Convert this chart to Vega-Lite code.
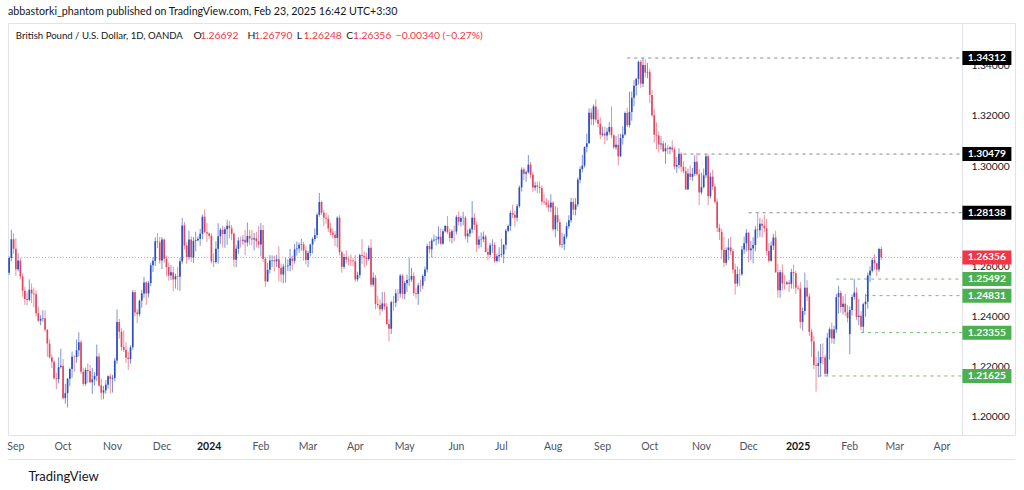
{
"$schema": "https://vega.github.io/schema/vega-lite/v6.json",
"width": 1007, "height": 412, "autosize": "none",
"padding": {"left": 8, "top": 23, "right": 9, "bottom": 55},
"background": "#ffffff",
"config": {"view": {"stroke": "#E0E3EB"}, "font": "Lato"},
"title": {"text": "abbastorki_phantom published on TradingView.com, Feb 23, 2025 16:42 UTC+3:30", "anchor": "start", "frame": "group", "font": "Lato", "fontSize": 10.7, "fontWeight": "normal", "color": "#131722", "offset": 5},
"datasets": {
"px": [
{"d":"2023-08-29","o":1.2574,"h":1.2640,"l":1.2565,"c":1.2633},
{"d":"2023-08-30","o":1.2633,"h":1.2746,"l":1.2620,"c":1.2708},
{"d":"2023-08-31","o":1.2708,"h":1.2732,"l":1.2650,"c":1.2670},
{"d":"2023-09-01","o":1.2670,"h":1.2712,"l":1.2562,"c":1.2588},
{"d":"2023-09-04","o":1.2588,"h":1.2652,"l":1.2580,"c":1.2623},
{"d":"2023-09-05","o":1.2623,"h":1.2634,"l":1.2548,"c":1.2560},
{"d":"2023-09-06","o":1.2560,"h":1.2572,"l":1.2478,"c":1.2503},
{"d":"2023-09-07","o":1.2503,"h":1.2518,"l":1.2446,"c":1.2470},
{"d":"2023-09-08","o":1.2470,"h":1.2500,"l":1.2444,"c":1.2466},
{"d":"2023-09-11","o":1.2466,"h":1.2548,"l":1.2460,"c":1.2507},
{"d":"2023-09-12","o":1.2507,"h":1.2532,"l":1.2454,"c":1.2492},
{"d":"2023-09-13","o":1.2492,"h":1.2515,"l":1.2437,"c":1.2489},
{"d":"2023-09-14","o":1.2489,"h":1.2504,"l":1.2400,"c":1.2413},
{"d":"2023-09-15","o":1.2413,"h":1.2440,"l":1.2377,"c":1.2383},
{"d":"2023-09-18","o":1.2383,"h":1.2405,"l":1.2365,"c":1.2391},
{"d":"2023-09-19","o":1.2391,"h":1.2425,"l":1.2379,"c":1.2393},
{"d":"2023-09-20","o":1.2393,"h":1.2424,"l":1.2339,"c":1.2347},
{"d":"2023-09-21","o":1.2347,"h":1.2350,"l":1.2239,"c":1.2292},
{"d":"2023-09-22","o":1.2292,"h":1.2309,"l":1.2231,"c":1.2237},
{"d":"2023-09-25","o":1.2237,"h":1.2249,"l":1.2194,"c":1.2219},
{"d":"2023-09-26","o":1.2219,"h":1.2225,"l":1.2148,"c":1.2153},
{"d":"2023-09-27","o":1.2153,"h":1.2175,"l":1.2110,"c":1.2150},
{"d":"2023-09-28","o":1.2150,"h":1.2237,"l":1.2133,"c":1.2198},
{"d":"2023-09-29","o":1.2198,"h":1.2271,"l":1.2192,"c":1.2203},
{"d":"2023-10-02","o":1.2203,"h":1.2230,"l":1.2070,"c":1.2074},
{"d":"2023-10-03","o":1.2074,"h":1.2131,"l":1.2052,"c":1.2094},
{"d":"2023-10-04","o":1.2094,"h":1.2155,"l":1.2037,"c":1.2151},
{"d":"2023-10-05","o":1.2151,"h":1.2196,"l":1.2122,"c":1.2190},
{"d":"2023-10-06","o":1.2190,"h":1.2260,"l":1.2156,"c":1.2239},
{"d":"2023-10-09","o":1.2239,"h":1.2245,"l":1.2178,"c":1.2238},
{"d":"2023-10-10","o":1.2238,"h":1.2308,"l":1.2215,"c":1.2265},
{"d":"2023-10-11","o":1.2265,"h":1.2337,"l":1.2240,"c":1.2297},
{"d":"2023-10-12","o":1.2297,"h":1.2307,"l":1.2170,"c":1.2179},
{"d":"2023-10-13","o":1.2179,"h":1.2196,"l":1.2123,"c":1.2131},
{"d":"2023-10-16","o":1.2131,"h":1.2196,"l":1.2123,"c":1.2187},
{"d":"2023-10-17","o":1.2187,"h":1.2213,"l":1.2134,"c":1.2182},
{"d":"2023-10-18","o":1.2182,"h":1.2207,"l":1.2136,"c":1.2137},
{"d":"2023-10-19","o":1.2137,"h":1.2195,"l":1.2091,"c":1.2149},
{"d":"2023-10-20","o":1.2149,"h":1.2178,"l":1.2124,"c":1.2163},
{"d":"2023-10-23","o":1.2163,"h":1.2288,"l":1.2142,"c":1.2240},
{"d":"2023-10-24","o":1.2240,"h":1.2254,"l":1.2119,"c":1.2125},
{"d":"2023-10-25","o":1.2125,"h":1.2152,"l":1.2068,"c":1.2096},
{"d":"2023-10-26","o":1.2096,"h":1.2123,"l":1.2070,"c":1.2105},
{"d":"2023-10-27","o":1.2105,"h":1.2146,"l":1.2091,"c":1.2128},
{"d":"2023-10-30","o":1.2128,"h":1.2165,"l":1.2112,"c":1.2161},
{"d":"2023-10-31","o":1.2161,"h":1.2171,"l":1.2093,"c":1.2151},
{"d":"2023-11-01","o":1.2151,"h":1.2167,"l":1.2096,"c":1.2155},
{"d":"2023-11-02","o":1.2155,"h":1.2235,"l":1.2141,"c":1.2224},
{"d":"2023-11-03","o":1.2224,"h":1.2428,"l":1.2211,"c":1.2378},
{"d":"2023-11-06","o":1.2378,"h":1.2390,"l":1.2312,"c":1.2339},
{"d":"2023-11-07","o":1.2339,"h":1.2353,"l":1.2263,"c":1.2278},
{"d":"2023-11-08","o":1.2278,"h":1.2345,"l":1.2258,"c":1.2267},
{"d":"2023-11-09","o":1.2267,"h":1.2297,"l":1.2214,"c":1.2235},
{"d":"2023-11-10","o":1.2235,"h":1.2260,"l":1.2187,"c":1.2230},
{"d":"2023-11-13","o":1.2230,"h":1.2285,"l":1.2212,"c":1.2277},
{"d":"2023-11-14","o":1.2277,"h":1.2505,"l":1.2267,"c":1.2497},
{"d":"2023-11-15","o":1.2497,"h":1.2505,"l":1.2401,"c":1.2416},
{"d":"2023-11-16","o":1.2416,"h":1.2430,"l":1.2374,"c":1.2409},
{"d":"2023-11-17","o":1.2409,"h":1.2467,"l":1.2400,"c":1.2463},
{"d":"2023-11-20","o":1.2463,"h":1.2506,"l":1.2435,"c":1.2492},
{"d":"2023-11-21","o":1.2492,"h":1.2558,"l":1.2474,"c":1.2536},
{"d":"2023-11-22","o":1.2536,"h":1.2540,"l":1.2446,"c":1.2492},
{"d":"2023-11-23","o":1.2492,"h":1.2542,"l":1.2476,"c":1.2533},
{"d":"2023-11-24","o":1.2533,"h":1.2615,"l":1.2521,"c":1.2604},
{"d":"2023-11-27","o":1.2604,"h":1.2637,"l":1.2577,"c":1.2622},
{"d":"2023-11-28","o":1.2622,"h":1.2716,"l":1.2601,"c":1.2700},
{"d":"2023-11-29","o":1.2700,"h":1.2733,"l":1.2673,"c":1.2696},
{"d":"2023-11-30","o":1.2696,"h":1.2717,"l":1.2610,"c":1.2623},
{"d":"2023-12-01","o":1.2623,"h":1.2717,"l":1.2589,"c":1.2707},
{"d":"2023-12-04","o":1.2707,"h":1.2711,"l":1.2614,"c":1.2630},
{"d":"2023-12-05","o":1.2630,"h":1.2643,"l":1.2561,"c":1.2597},
{"d":"2023-12-06","o":1.2597,"h":1.2615,"l":1.2543,"c":1.2563},
{"d":"2023-12-07","o":1.2563,"h":1.2605,"l":1.2545,"c":1.2576},
{"d":"2023-12-08","o":1.2576,"h":1.2598,"l":1.2500,"c":1.2548},
{"d":"2023-12-11","o":1.2548,"h":1.2571,"l":1.2511,"c":1.2560},
{"d":"2023-12-12","o":1.2560,"h":1.2597,"l":1.2505,"c":1.2558},
{"d":"2023-12-13","o":1.2558,"h":1.2634,"l":1.2502,"c":1.2620},
{"d":"2023-12-14","o":1.2620,"h":1.2793,"l":1.2610,"c":1.2763},
{"d":"2023-12-15","o":1.2763,"h":1.2777,"l":1.2667,"c":1.2683},
{"d":"2023-12-18","o":1.2683,"h":1.2697,"l":1.2610,"c":1.2637},
{"d":"2023-12-19","o":1.2637,"h":1.2742,"l":1.2626,"c":1.2707},
{"d":"2023-12-20","o":1.2707,"h":1.2720,"l":1.2617,"c":1.2636},
{"d":"2023-12-21","o":1.2636,"h":1.2717,"l":1.2613,"c":1.2701},
{"d":"2023-12-22","o":1.2701,"h":1.2738,"l":1.2660,"c":1.2704},
{"d":"2023-12-25","o":1.2704,"h":1.2719,"l":1.2700,"c":1.2710},
{"d":"2023-12-26","o":1.2710,"h":1.2749,"l":1.2682,"c":1.2730},
{"d":"2023-12-27","o":1.2730,"h":1.2807,"l":1.2708,"c":1.2798},
{"d":"2023-12-28","o":1.2798,"h":1.2827,"l":1.2734,"c":1.2736},
{"d":"2023-12-29","o":1.2736,"h":1.2773,"l":1.2698,"c":1.2731},
{"d":"2024-01-01","o":1.2731,"h":1.2736,"l":1.2710,"c":1.2722},
{"d":"2024-01-02","o":1.2722,"h":1.2732,"l":1.2611,"c":1.2620},
{"d":"2024-01-03","o":1.2620,"h":1.2652,"l":1.2597,"c":1.2617},
{"d":"2024-01-04","o":1.2617,"h":1.2700,"l":1.2611,"c":1.2670},
{"d":"2024-01-05","o":1.2670,"h":1.2772,"l":1.2611,"c":1.2720},
{"d":"2024-01-08","o":1.2720,"h":1.2753,"l":1.2690,"c":1.2746},
{"d":"2024-01-09","o":1.2746,"h":1.2762,"l":1.2675,"c":1.2729},
{"d":"2024-01-10","o":1.2729,"h":1.2757,"l":1.2674,"c":1.2748},
{"d":"2024-01-11","o":1.2748,"h":1.2786,"l":1.2686,"c":1.2762},
{"d":"2024-01-12","o":1.2762,"h":1.2781,"l":1.2711,"c":1.2752},
{"d":"2024-01-15","o":1.2752,"h":1.2765,"l":1.2704,"c":1.2730},
{"d":"2024-01-16","o":1.2730,"h":1.2735,"l":1.2598,"c":1.2626},
{"d":"2024-01-17","o":1.2626,"h":1.2685,"l":1.2597,"c":1.2670},
{"d":"2024-01-18","o":1.2670,"h":1.2715,"l":1.2650,"c":1.2703},
{"d":"2024-01-19","o":1.2703,"h":1.2719,"l":1.2675,"c":1.2702},
{"d":"2024-01-22","o":1.2702,"h":1.2724,"l":1.2686,"c":1.2706},
{"d":"2024-01-23","o":1.2706,"h":1.2745,"l":1.2645,"c":1.2695},
{"d":"2024-01-24","o":1.2695,"h":1.2775,"l":1.2680,"c":1.2721},
{"d":"2024-01-25","o":1.2721,"h":1.2746,"l":1.2686,"c":1.2711},
{"d":"2024-01-26","o":1.2711,"h":1.2745,"l":1.2684,"c":1.2707},
{"d":"2024-01-29","o":1.2707,"h":1.2733,"l":1.2664,"c":1.2712},
{"d":"2024-01-30","o":1.2712,"h":1.2738,"l":1.2675,"c":1.2700},
{"d":"2024-01-31","o":1.2700,"h":1.2760,"l":1.2672,"c":1.2687},
{"d":"2024-02-01","o":1.2687,"h":1.2773,"l":1.2640,"c":1.2745},
{"d":"2024-02-02","o":1.2745,"h":1.2765,"l":1.2617,"c":1.2630},
{"d":"2024-02-05","o":1.2630,"h":1.2638,"l":1.2518,"c":1.2540},
{"d":"2024-02-06","o":1.2540,"h":1.2613,"l":1.2537,"c":1.2586},
{"d":"2024-02-07","o":1.2586,"h":1.2645,"l":1.2572,"c":1.2623},
{"d":"2024-02-08","o":1.2623,"h":1.2644,"l":1.2597,"c":1.2625},
{"d":"2024-02-09","o":1.2625,"h":1.2642,"l":1.2580,"c":1.2620},
{"d":"2024-02-12","o":1.2620,"h":1.2646,"l":1.2597,"c":1.2628},
{"d":"2024-02-13","o":1.2628,"h":1.2680,"l":1.2540,"c":1.2593},
{"d":"2024-02-14","o":1.2593,"h":1.2610,"l":1.2536,"c":1.2567},
{"d":"2024-02-15","o":1.2567,"h":1.2610,"l":1.2532,"c":1.2599},
{"d":"2024-02-16","o":1.2599,"h":1.2634,"l":1.2535,"c":1.2600},
{"d":"2024-02-19","o":1.2600,"h":1.2628,"l":1.2581,"c":1.2603},
{"d":"2024-02-20","o":1.2603,"h":1.2670,"l":1.2580,"c":1.2631},
{"d":"2024-02-21","o":1.2631,"h":1.2643,"l":1.2587,"c":1.2622},
{"d":"2024-02-22","o":1.2622,"h":1.2689,"l":1.2611,"c":1.2668},
{"d":"2024-02-23","o":1.2668,"h":1.2699,"l":1.2643,"c":1.2671},
{"d":"2024-02-26","o":1.2671,"h":1.2695,"l":1.2654,"c":1.2686},
{"d":"2024-02-27","o":1.2686,"h":1.2710,"l":1.2662,"c":1.2688},
{"d":"2024-02-28","o":1.2688,"h":1.2698,"l":1.2623,"c":1.2663},
{"d":"2024-02-29","o":1.2663,"h":1.2682,"l":1.2608,"c":1.2625},
{"d":"2024-03-01","o":1.2625,"h":1.2662,"l":1.2597,"c":1.2653},
{"d":"2024-03-04","o":1.2653,"h":1.2690,"l":1.2640,"c":1.2687},
{"d":"2024-03-05","o":1.2687,"h":1.2716,"l":1.2651,"c":1.2709},
{"d":"2024-03-06","o":1.2709,"h":1.2752,"l":1.2699,"c":1.2725},
{"d":"2024-03-07","o":1.2725,"h":1.2813,"l":1.2713,"c":1.2806},
{"d":"2024-03-08","o":1.2806,"h":1.2893,"l":1.2798,"c":1.2857},
{"d":"2024-03-11","o":1.2857,"h":1.2862,"l":1.2805,"c":1.2814},
{"d":"2024-03-12","o":1.2814,"h":1.2826,"l":1.2761,"c":1.2794},
{"d":"2024-03-13","o":1.2794,"h":1.2813,"l":1.2770,"c":1.2790},
{"d":"2024-03-14","o":1.2790,"h":1.2805,"l":1.2737,"c":1.2751},
{"d":"2024-03-15","o":1.2751,"h":1.2774,"l":1.2723,"c":1.2734},
{"d":"2024-03-18","o":1.2734,"h":1.2752,"l":1.2711,"c":1.2726},
{"d":"2024-03-19","o":1.2726,"h":1.2741,"l":1.2681,"c":1.2713},
{"d":"2024-03-20","o":1.2713,"h":1.2800,"l":1.2675,"c":1.2794},
{"d":"2024-03-21","o":1.2794,"h":1.2804,"l":1.2643,"c":1.2656},
{"d":"2024-03-22","o":1.2656,"h":1.2662,"l":1.2575,"c":1.2598},
{"d":"2024-03-25","o":1.2598,"h":1.2650,"l":1.2590,"c":1.2637},
{"d":"2024-03-26","o":1.2637,"h":1.2664,"l":1.2611,"c":1.2627},
{"d":"2024-03-27","o":1.2627,"h":1.2639,"l":1.2603,"c":1.2625},
{"d":"2024-03-28","o":1.2625,"h":1.2648,"l":1.2601,"c":1.2623},
{"d":"2024-03-29","o":1.2623,"h":1.2634,"l":1.2600,"c":1.2620},
{"d":"2024-04-01","o":1.2620,"h":1.2645,"l":1.2539,"c":1.2548},
{"d":"2024-04-02","o":1.2548,"h":1.2578,"l":1.2540,"c":1.2565},
{"d":"2024-04-03","o":1.2565,"h":1.2650,"l":1.2553,"c":1.2645},
{"d":"2024-04-04","o":1.2645,"h":1.2709,"l":1.2610,"c":1.2641},
{"d":"2024-04-05","o":1.2641,"h":1.2660,"l":1.2596,"c":1.2636},
{"d":"2024-04-08","o":1.2636,"h":1.2655,"l":1.2603,"c":1.2629},
{"d":"2024-04-09","o":1.2629,"h":1.2684,"l":1.2622,"c":1.2674},
{"d":"2024-04-10","o":1.2674,"h":1.2708,"l":1.2518,"c":1.2527},
{"d":"2024-04-11","o":1.2527,"h":1.2576,"l":1.2519,"c":1.2555},
{"d":"2024-04-12","o":1.2555,"h":1.2565,"l":1.2428,"c":1.2450},
{"d":"2024-04-15","o":1.2450,"h":1.2483,"l":1.2432,"c":1.2446},
{"d":"2024-04-16","o":1.2446,"h":1.2468,"l":1.2405,"c":1.2429},
{"d":"2024-04-17","o":1.2429,"h":1.2498,"l":1.2420,"c":1.2452},
{"d":"2024-04-18","o":1.2452,"h":1.2498,"l":1.2426,"c":1.2439},
{"d":"2024-04-19","o":1.2439,"h":1.2454,"l":1.2366,"c":1.2370},
{"d":"2024-04-22","o":1.2370,"h":1.2389,"l":1.2300,"c":1.2351},
{"d":"2024-04-23","o":1.2351,"h":1.2463,"l":1.2330,"c":1.2457},
{"d":"2024-04-24","o":1.2457,"h":1.2482,"l":1.2423,"c":1.2455},
{"d":"2024-04-25","o":1.2455,"h":1.2509,"l":1.2438,"c":1.2492},
{"d":"2024-04-26","o":1.2492,"h":1.2509,"l":1.2461,"c":1.2491},
{"d":"2024-04-29","o":1.2491,"h":1.2570,"l":1.2475,"c":1.2563},
{"d":"2024-04-30","o":1.2563,"h":1.2569,"l":1.2470,"c":1.2490},
{"d":"2024-05-01","o":1.2490,"h":1.2542,"l":1.2468,"c":1.2533},
{"d":"2024-05-02","o":1.2533,"h":1.2567,"l":1.2498,"c":1.2545},
{"d":"2024-05-03","o":1.2545,"h":1.2634,"l":1.2522,"c":1.2547},
{"d":"2024-05-06","o":1.2547,"h":1.2594,"l":1.2538,"c":1.2562},
{"d":"2024-05-07","o":1.2562,"h":1.2576,"l":1.2483,"c":1.2493},
{"d":"2024-05-08","o":1.2493,"h":1.2512,"l":1.2472,"c":1.2490},
{"d":"2024-05-09","o":1.2490,"h":1.2535,"l":1.2446,"c":1.2524},
{"d":"2024-05-10","o":1.2524,"h":1.2547,"l":1.2498,"c":1.2523},
{"d":"2024-05-13","o":1.2523,"h":1.2568,"l":1.2510,"c":1.2561},
{"d":"2024-05-14","o":1.2561,"h":1.2599,"l":1.2541,"c":1.2587},
{"d":"2024-05-15","o":1.2587,"h":1.2690,"l":1.2575,"c":1.2681},
{"d":"2024-05-16","o":1.2681,"h":1.2701,"l":1.2651,"c":1.2668},
{"d":"2024-05-17","o":1.2668,"h":1.2712,"l":1.2635,"c":1.2703},
{"d":"2024-05-20","o":1.2703,"h":1.2727,"l":1.2697,"c":1.2706},
{"d":"2024-05-21","o":1.2706,"h":1.2721,"l":1.2683,"c":1.2708},
{"d":"2024-05-22","o":1.2708,"h":1.2760,"l":1.2690,"c":1.2718},
{"d":"2024-05-23","o":1.2718,"h":1.2750,"l":1.2686,"c":1.2690},
{"d":"2024-05-24","o":1.2690,"h":1.2748,"l":1.2686,"c":1.2740},
{"d":"2024-05-27","o":1.2740,"h":1.2765,"l":1.2735,"c":1.2761},
{"d":"2024-05-28","o":1.2761,"h":1.2801,"l":1.2729,"c":1.2736},
{"d":"2024-05-29","o":1.2736,"h":1.2750,"l":1.2698,"c":1.2713},
{"d":"2024-05-30","o":1.2713,"h":1.2748,"l":1.2691,"c":1.2740},
{"d":"2024-05-31","o":1.2740,"h":1.2763,"l":1.2699,"c":1.2739},
{"d":"2024-06-03","o":1.2739,"h":1.2804,"l":1.2727,"c":1.2797},
{"d":"2024-06-04","o":1.2797,"h":1.2818,"l":1.2763,"c":1.2778},
{"d":"2024-06-05","o":1.2778,"h":1.2802,"l":1.2758,"c":1.2793},
{"d":"2024-06-06","o":1.2793,"h":1.2818,"l":1.2764,"c":1.2794},
{"d":"2024-06-07","o":1.2794,"h":1.2802,"l":1.2708,"c":1.2720},
{"d":"2024-06-10","o":1.2720,"h":1.2747,"l":1.2695,"c":1.2731},
{"d":"2024-06-11","o":1.2731,"h":1.2754,"l":1.2716,"c":1.2747},
{"d":"2024-06-12","o":1.2747,"h":1.2860,"l":1.2733,"c":1.2794},
{"d":"2024-06-13","o":1.2794,"h":1.2812,"l":1.2745,"c":1.2766},
{"d":"2024-06-14","o":1.2766,"h":1.2780,"l":1.2657,"c":1.2686},
{"d":"2024-06-17","o":1.2686,"h":1.2722,"l":1.2671,"c":1.2707},
{"d":"2024-06-18","o":1.2707,"h":1.2735,"l":1.2676,"c":1.2708},
{"d":"2024-06-19","o":1.2708,"h":1.2739,"l":1.2696,"c":1.2719},
{"d":"2024-06-20","o":1.2719,"h":1.2726,"l":1.2656,"c":1.2657},
{"d":"2024-06-21","o":1.2657,"h":1.2674,"l":1.2624,"c":1.2646},
{"d":"2024-06-24","o":1.2646,"h":1.2694,"l":1.2637,"c":1.2684},
{"d":"2024-06-25","o":1.2684,"h":1.2708,"l":1.2654,"c":1.2686},
{"d":"2024-06-26","o":1.2686,"h":1.2697,"l":1.2614,"c":1.2621},
{"d":"2024-06-27","o":1.2621,"h":1.2651,"l":1.2615,"c":1.2640},
{"d":"2024-06-28","o":1.2640,"h":1.2676,"l":1.2619,"c":1.2645},
{"d":"2024-07-01","o":1.2645,"h":1.2709,"l":1.2637,"c":1.2648},
{"d":"2024-07-02","o":1.2648,"h":1.2688,"l":1.2613,"c":1.2686},
{"d":"2024-07-03","o":1.2686,"h":1.2750,"l":1.2667,"c":1.2742},
{"d":"2024-07-04","o":1.2742,"h":1.2767,"l":1.2736,"c":1.2761},
{"d":"2024-07-05","o":1.2761,"h":1.2823,"l":1.2742,"c":1.2813},
{"d":"2024-07-08","o":1.2813,"h":1.2846,"l":1.2793,"c":1.2806},
{"d":"2024-07-09","o":1.2806,"h":1.2822,"l":1.2758,"c":1.2794},
{"d":"2024-07-10","o":1.2794,"h":1.2849,"l":1.2779,"c":1.2840},
{"d":"2024-07-11","o":1.2840,"h":1.2923,"l":1.2834,"c":1.2915},
{"d":"2024-07-12","o":1.2915,"h":1.2995,"l":1.2899,"c":1.2986},
{"d":"2024-07-15","o":1.2986,"h":1.2994,"l":1.2944,"c":1.2969},
{"d":"2024-07-16","o":1.2969,"h":1.2983,"l":1.2937,"c":1.2975},
{"d":"2024-07-17","o":1.2975,"h":1.3044,"l":1.2970,"c":1.3006},
{"d":"2024-07-18","o":1.3006,"h":1.3017,"l":1.2951,"c":1.2965},
{"d":"2024-07-19","o":1.2965,"h":1.2977,"l":1.2896,"c":1.2915},
{"d":"2024-07-22","o":1.2915,"h":1.2938,"l":1.2901,"c":1.2923},
{"d":"2024-07-23","o":1.2923,"h":1.2938,"l":1.2892,"c":1.2917},
{"d":"2024-07-24","o":1.2917,"h":1.2939,"l":1.2891,"c":1.2913},
{"d":"2024-07-25","o":1.2913,"h":1.2922,"l":1.2845,"c":1.2858},
{"d":"2024-07-26","o":1.2858,"h":1.2888,"l":1.2846,"c":1.2855},
{"d":"2024-07-29","o":1.2855,"h":1.2872,"l":1.2834,"c":1.2846},
{"d":"2024-07-30","o":1.2846,"h":1.2864,"l":1.2817,"c":1.2835},
{"d":"2024-07-31","o":1.2835,"h":1.2888,"l":1.2815,"c":1.2854},
{"d":"2024-08-01","o":1.2854,"h":1.2860,"l":1.2740,"c":1.2748},
{"d":"2024-08-02","o":1.2748,"h":1.2840,"l":1.2715,"c":1.2804},
{"d":"2024-08-05","o":1.2804,"h":1.2835,"l":1.2740,"c":1.2776},
{"d":"2024-08-06","o":1.2776,"h":1.2788,"l":1.2676,"c":1.2686},
{"d":"2024-08-07","o":1.2686,"h":1.2734,"l":1.2674,"c":1.2688},
{"d":"2024-08-08","o":1.2688,"h":1.2730,"l":1.2665,"c":1.2719},
{"d":"2024-08-09","o":1.2719,"h":1.2775,"l":1.2710,"c":1.2760},
{"d":"2024-08-12","o":1.2760,"h":1.2804,"l":1.2750,"c":1.2784},
{"d":"2024-08-13","o":1.2784,"h":1.2874,"l":1.2774,"c":1.2857},
{"d":"2024-08-14","o":1.2857,"h":1.2872,"l":1.2804,"c":1.2826},
{"d":"2024-08-15","o":1.2826,"h":1.2872,"l":1.2803,"c":1.2847},
{"d":"2024-08-16","o":1.2847,"h":1.2954,"l":1.2838,"c":1.2946},
{"d":"2024-08-19","o":1.2946,"h":1.2999,"l":1.2931,"c":1.2988},
{"d":"2024-08-20","o":1.2988,"h":1.3044,"l":1.2975,"c":1.3002},
{"d":"2024-08-21","o":1.3002,"h":1.3079,"l":1.2994,"c":1.3076},
{"d":"2024-08-22","o":1.3076,"h":1.3130,"l":1.3055,"c":1.3091},
{"d":"2024-08-23","o":1.3091,"h":1.3230,"l":1.3089,"c":1.3213},
{"d":"2024-08-26","o":1.3213,"h":1.3230,"l":1.3164,"c":1.3187},
{"d":"2024-08-27","o":1.3187,"h":1.3246,"l":1.3163,"c":1.3238},
{"d":"2024-08-28","o":1.3238,"h":1.3266,"l":1.3174,"c":1.3185},
{"d":"2024-08-29","o":1.3185,"h":1.3227,"l":1.3156,"c":1.3169},
{"d":"2024-08-30","o":1.3169,"h":1.3195,"l":1.3109,"c":1.3125},
{"d":"2024-09-02","o":1.3125,"h":1.3158,"l":1.3118,"c":1.3130},
{"d":"2024-09-03","o":1.3130,"h":1.3157,"l":1.3087,"c":1.3122},
{"d":"2024-09-04","o":1.3122,"h":1.3153,"l":1.3102,"c":1.3137},
{"d":"2024-09-05","o":1.3137,"h":1.3176,"l":1.3125,"c":1.3156},
{"d":"2024-09-06","o":1.3156,"h":1.3238,"l":1.3111,"c":1.3123},
{"d":"2024-09-09","o":1.3123,"h":1.3127,"l":1.3068,"c":1.3075},
{"d":"2024-09-10","o":1.3075,"h":1.3120,"l":1.3065,"c":1.3085},
{"d":"2024-09-11","o":1.3085,"h":1.3128,"l":1.3002,"c":1.3039},
{"d":"2024-09-12","o":1.3039,"h":1.3129,"l":1.3037,"c":1.3112},
{"d":"2024-09-13","o":1.3112,"h":1.3159,"l":1.3086,"c":1.3126},
{"d":"2024-09-16","o":1.3126,"h":1.3218,"l":1.3121,"c":1.3212},
{"d":"2024-09-17","o":1.3212,"h":1.3233,"l":1.3155,"c":1.3163},
{"d":"2024-09-18","o":1.3163,"h":1.3297,"l":1.3154,"c":1.3216},
{"d":"2024-09-19","o":1.3216,"h":1.3298,"l":1.3181,"c":1.3273},
{"d":"2024-09-20","o":1.3273,"h":1.3343,"l":1.3239,"c":1.3321},
{"d":"2024-09-23","o":1.3321,"h":1.3352,"l":1.3282,"c":1.3348},
{"d":"2024-09-24","o":1.3348,"h":1.3421,"l":1.3325,"c":1.3416},
{"d":"2024-09-25","o":1.3416,"h":1.3423,"l":1.3312,"c":1.3329},
{"d":"2024-09-26","o":1.3329,"h":1.34312,"l":1.3315,"c":1.3403},
{"d":"2024-09-27","o":1.3403,"h":1.3425,"l":1.3354,"c":1.3373},
{"d":"2024-09-30","o":1.3373,"h":1.3412,"l":1.3351,"c":1.3375},
{"d":"2024-10-01","o":1.3375,"h":1.3389,"l":1.3251,"c":1.3284},
{"d":"2024-10-02","o":1.3284,"h":1.3303,"l":1.3197,"c":1.3203},
{"d":"2024-10-03","o":1.3203,"h":1.3229,"l":1.3093,"c":1.3125},
{"d":"2024-10-04","o":1.3125,"h":1.3175,"l":1.3067,"c":1.3122},
{"d":"2024-10-07","o":1.3122,"h":1.3138,"l":1.3054,"c":1.3086},
{"d":"2024-10-08","o":1.3086,"h":1.3119,"l":1.3066,"c":1.3090},
{"d":"2024-10-09","o":1.3090,"h":1.3101,"l":1.3056,"c":1.3059},
{"d":"2024-10-10","o":1.3059,"h":1.3092,"l":1.3010,"c":1.3071},
{"d":"2024-10-11","o":1.3071,"h":1.3083,"l":1.3048,"c":1.3068},
{"d":"2024-10-14","o":1.3068,"h":1.3079,"l":1.3047,"c":1.3074},
{"d":"2024-10-15","o":1.3074,"h":1.3103,"l":1.3054,"c":1.3066},
{"d":"2024-10-16","o":1.3066,"h":1.3075,"l":1.2986,"c":1.2998},
{"d":"2024-10-17","o":1.2998,"h":1.3036,"l":1.2973,"c":1.3004},
{"d":"2024-10-18","o":1.3004,"h":1.3071,"l":1.2990,"c":1.3049},
{"d":"2024-10-21","o":1.3049,"h":1.3055,"l":1.2977,"c":1.2997},
{"d":"2024-10-22","o":1.2997,"h":1.3020,"l":1.2971,"c":1.2980},
{"d":"2024-10-23","o":1.2980,"h":1.2997,"l":1.2905,"c":1.2907},
{"d":"2024-10-24","o":1.2907,"h":1.2990,"l":1.2906,"c":1.2970},
{"d":"2024-10-25","o":1.2970,"h":1.3003,"l":1.2945,"c":1.2957},
{"d":"2024-10-28","o":1.2957,"h":1.2992,"l":1.2941,"c":1.2969},
{"d":"2024-10-29","o":1.2969,"h":1.3043,"l":1.2960,"c":1.3017},
{"d":"2024-10-30","o":1.3017,"h":1.3053,"l":1.2963,"c":1.2967},
{"d":"2024-10-31","o":1.2967,"h":1.2987,"l":1.2844,"c":1.2895},
{"d":"2024-11-01","o":1.2895,"h":1.2974,"l":1.2886,"c":1.2916},
{"d":"2024-11-04","o":1.2916,"h":1.2990,"l":1.2911,"c":1.2963},
{"d":"2024-11-05","o":1.2963,"h":1.30479,"l":1.2952,"c":1.3039},
{"d":"2024-11-06","o":1.3039,"h":1.3047,"l":1.2844,"c":1.2880},
{"d":"2024-11-07","o":1.2880,"h":1.2974,"l":1.2871,"c":1.2958},
{"d":"2024-11-08","o":1.2958,"h":1.2985,"l":1.2904,"c":1.2918},
{"d":"2024-11-11","o":1.2918,"h":1.2930,"l":1.2850,"c":1.2858},
{"d":"2024-11-12","o":1.2858,"h":1.2870,"l":1.2737,"c":1.2754},
{"d":"2024-11-13","o":1.2754,"h":1.2770,"l":1.2705,"c":1.2737},
{"d":"2024-11-14","o":1.2737,"h":1.2750,"l":1.2630,"c":1.2666},
{"d":"2024-11-15","o":1.2666,"h":1.2717,"l":1.2597,"c":1.2614},
{"d":"2024-11-18","o":1.2614,"h":1.2676,"l":1.2604,"c":1.2665},
{"d":"2024-11-19","o":1.2665,"h":1.2711,"l":1.2625,"c":1.2675},
{"d":"2024-11-20","o":1.2675,"h":1.2718,"l":1.2645,"c":1.2660},
{"d":"2024-11-21","o":1.2660,"h":1.2671,"l":1.2572,"c":1.2587},
{"d":"2024-11-22","o":1.2587,"h":1.2611,"l":1.2487,"c":1.2531},
{"d":"2024-11-25","o":1.2531,"h":1.2600,"l":1.2519,"c":1.2569},
{"d":"2024-11-26","o":1.2569,"h":1.2589,"l":1.2521,"c":1.2568},
{"d":"2024-11-27","o":1.2568,"h":1.2682,"l":1.2562,"c":1.2667},
{"d":"2024-11-28","o":1.2667,"h":1.2718,"l":1.2649,"c":1.2692},
{"d":"2024-11-29","o":1.2692,"h":1.2748,"l":1.2659,"c":1.2734},
{"d":"2024-12-02","o":1.2734,"h":1.2738,"l":1.2616,"c":1.2664},
{"d":"2024-12-03","o":1.2664,"h":1.2701,"l":1.2624,"c":1.2671},
{"d":"2024-12-04","o":1.2671,"h":1.2716,"l":1.2612,"c":1.2685},
{"d":"2024-12-05","o":1.2685,"h":1.2760,"l":1.2660,"c":1.2747},
{"d":"2024-12-06","o":1.2747,"h":1.28138,"l":1.2712,"c":1.2744},
{"d":"2024-12-09","o":1.2744,"h":1.2793,"l":1.2718,"c":1.2770},
{"d":"2024-12-10","o":1.2770,"h":1.2788,"l":1.2715,"c":1.2762},
{"d":"2024-12-11","o":1.2762,"h":1.2805,"l":1.2737,"c":1.2752},
{"d":"2024-12-12","o":1.2752,"h":1.2789,"l":1.2644,"c":1.2661},
{"d":"2024-12-13","o":1.2661,"h":1.2693,"l":1.2615,"c":1.2622},
{"d":"2024-12-16","o":1.2622,"h":1.2700,"l":1.2618,"c":1.2683},
{"d":"2024-12-17","o":1.2683,"h":1.2730,"l":1.2665,"c":1.2715},
{"d":"2024-12-18","o":1.2715,"h":1.2742,"l":1.2574,"c":1.2576},
{"d":"2024-12-19","o":1.2576,"h":1.2610,"l":1.2475,"c":1.2505},
{"d":"2024-12-20","o":1.2505,"h":1.2586,"l":1.2475,"c":1.2576},
{"d":"2024-12-23","o":1.2576,"h":1.2608,"l":1.2503,"c":1.2532},
{"d":"2024-12-24","o":1.2532,"h":1.2565,"l":1.2507,"c":1.2531},
{"d":"2024-12-25","o":1.2531,"h":1.2542,"l":1.2525,"c":1.2536},
{"d":"2024-12-26","o":1.2536,"h":1.2546,"l":1.2497,"c":1.2530},
{"d":"2024-12-27","o":1.2530,"h":1.2590,"l":1.2511,"c":1.2577},
{"d":"2024-12-30","o":1.2577,"h":1.2607,"l":1.2510,"c":1.2573},
{"d":"2024-12-31","o":1.2573,"h":1.2581,"l":1.2490,"c":1.2515},
{"d":"2025-01-01","o":1.2515,"h":1.2524,"l":1.2505,"c":1.2512},
{"d":"2025-01-02","o":1.2512,"h":1.2537,"l":1.2352,"c":1.2378},
{"d":"2025-01-03","o":1.2378,"h":1.2435,"l":1.2343,"c":1.2422},
{"d":"2025-01-06","o":1.2422,"h":1.2575,"l":1.2406,"c":1.2515},
{"d":"2025-01-07","o":1.2515,"h":1.2545,"l":1.2461,"c":1.2480},
{"d":"2025-01-08","o":1.2480,"h":1.2493,"l":1.2322,"c":1.2338},
{"d":"2025-01-09","o":1.2338,"h":1.2350,"l":1.2239,"c":1.2300},
{"d":"2025-01-10","o":1.2300,"h":1.2323,"l":1.2190,"c":1.2206},
{"d":"2025-01-13","o":1.2206,"h":1.2238,"l":1.2100,"c":1.2203},
{"d":"2025-01-14","o":1.2203,"h":1.2261,"l":1.2157,"c":1.2214},
{"d":"2025-01-15","o":1.2214,"h":1.2290,"l":1.2160,"c":1.2238},
{"d":"2025-01-16","o":1.2238,"h":1.2293,"l":1.2209,"c":1.2236},
{"d":"2025-01-17","o":1.2236,"h":1.2247,"l":1.2160,"c":1.2171},
{"d":"2025-01-20","o":1.2171,"h":1.2334,"l":1.2163,"c":1.2315},
{"d":"2025-01-21","o":1.2315,"h":1.2357,"l":1.2228,"c":1.2349},
{"d":"2025-01-22","o":1.2349,"h":1.2376,"l":1.2292,"c":1.2312},
{"d":"2025-01-23","o":1.2312,"h":1.2363,"l":1.2290,"c":1.2348},
{"d":"2025-01-24","o":1.2348,"h":1.2490,"l":1.2334,"c":1.2477},
{"d":"2025-01-27","o":1.2477,"h":1.2522,"l":1.2411,"c":1.2494},
{"d":"2025-01-28","o":1.2494,"h":1.2503,"l":1.2415,"c":1.2438},
{"d":"2025-01-29","o":1.2438,"h":1.2481,"l":1.2408,"c":1.2451},
{"d":"2025-01-30","o":1.2451,"h":1.2490,"l":1.2402,"c":1.2417},
{"d":"2025-01-31","o":1.2417,"h":1.2446,"l":1.2376,"c":1.2394},
{"d":"2025-02-03","o":1.2330,"h":1.2440,"l":1.2249,"c":1.2426},
{"d":"2025-02-04","o":1.2426,"h":1.2488,"l":1.2404,"c":1.2478},
{"d":"2025-02-05","o":1.2478,"h":1.25492,"l":1.2467,"c":1.2495},
{"d":"2025-02-06","o":1.2495,"h":1.2516,"l":1.2385,"c":1.2398},
{"d":"2025-02-07","o":1.2398,"h":1.2470,"l":1.2366,"c":1.2403},
{"d":"2025-02-10","o":1.2403,"h":1.2421,"l":1.2345,"c":1.2359},
{"d":"2025-02-11","o":1.2359,"h":1.2455,"l":1.23355,"c":1.2449},
{"d":"2025-02-12","o":1.2449,"h":1.2490,"l":1.2399,"c":1.2459},
{"d":"2025-02-13","o":1.2459,"h":1.2575,"l":1.2431,"c":1.2564},
{"d":"2025-02-14","o":1.2564,"h":1.2600,"l":1.2537,"c":1.2582},
{"d":"2025-02-17","o":1.2582,"h":1.2633,"l":1.2575,"c":1.2625},
{"d":"2025-02-18","o":1.2625,"h":1.2648,"l":1.2586,"c":1.2612},
{"d":"2025-02-19","o":1.2612,"h":1.2614,"l":1.2560,"c":1.2587},
{"d":"2025-02-20","o":1.2587,"h":1.2674,"l":1.2578,"c":1.26692},
{"d":"2025-02-21","o":1.26692,"h":1.26790,"l":1.26248,"c":1.26356},
{"d":"2025-02-24"},{"d":"2025-02-25"},{"d":"2025-02-26"},{"d":"2025-02-27"},{"d":"2025-02-28"},
{"d":"2025-03-03"},{"d":"2025-03-04"},{"d":"2025-03-05"},{"d":"2025-03-06"},{"d":"2025-03-07"},
{"d":"2025-03-10"},{"d":"2025-03-11"},{"d":"2025-03-12"},{"d":"2025-03-13"},{"d":"2025-03-14"},
{"d":"2025-03-17"},{"d":"2025-03-18"},{"d":"2025-03-19"},{"d":"2025-03-20"},{"d":"2025-03-21"},
{"d":"2025-03-24"},{"d":"2025-03-25"},{"d":"2025-03-26"},{"d":"2025-03-27"},{"d":"2025-03-28"},
{"d":"2025-03-31"},{"d":"2025-04-01"},{"d":"2025-04-02"},{"d":"2025-04-03"},{"d":"2025-04-04"},
{"d":"2025-04-07"},{"d":"2025-04-08"},{"d":"2025-04-09"},{"d":"2025-04-10"},{"d":"2025-04-11"},
{"d":"2025-04-14"},{"d":"2025-04-15"},{"d":"2025-04-16"},{"d":"2025-04-17"},{"d":"2025-04-18"},
{"d":"2025-04-21"},{"d":"2025-04-22"},{"d":"2025-04-23"},{"d":"2025-04-24"},{"d":"2025-04-25"},
{"d":"2025-04-28"},{"d":"2025-04-29"},{"d":"2025-04-30"},{"d":"2025-05-01"},{"d":"2025-05-02"},
{"d":"2025-05-05"},{"d":"2025-05-06"},{"d":"2025-05-07"},{"d":"2025-05-08"},{"d":"2025-05-09"},
{"d":"2025-05-12"},{"d":"2025-05-13"},{"d":"2025-05-14"},{"d":"2025-05-15"}
],
"lv": [
{"v":1.34312,"t":"res","from":"2024-09-17"},
{"v":1.30479,"t":"res","from":"2024-10-22"},
{"v":1.28138,"t":"res","from":"2024-12-02"},
{"v":1.26356,"t":"cur","from":"2023-08-29"},
{"v":1.25492,"t":"sup","from":"2025-01-24"},
{"v":1.24831,"t":"sup","from":"2025-02-12"},
{"v":1.23355,"t":"sup","from":"2025-02-10"},
{"v":1.21625,"t":"sup","from":"2025-01-14"}
]
},
"layer": [
{"data": {"name": "px"},
 "mark": {"type": "rule", "opacity": 0},
 "encoding": {
  "x": {"field": "d", "type": "ordinal",
   "scale": {"type": "band", "paddingInner": 0, "paddingOuter": 0},
   "axis": {
    "values": ["2023-09-01","2023-10-02","2023-11-01","2023-12-01","2024-01-01","2024-02-01","2024-03-01","2024-04-01","2024-05-01","2024-06-03","2024-07-01","2024-08-01","2024-09-02","2024-10-01","2024-11-01","2024-12-02","2025-01-01","2025-02-03","2025-03-03","2025-04-01"],
    "labelExpr": "utcmonth(toDate(datum.value)) == 0 ? utcFormat(toDate(datum.value), '%Y') : utcFormat(toDate(datum.value), '%b')",
    "labelAngle": 0, "labelFont": "Lato", "labelFontSize": 10.5,
    "labelColor": {"condition": {"test": "utcmonth(toDate(datum.value)) == 0", "value": "#131722"}, "value": "#50535E"},
    "labelFontWeight": {"condition": {"test": "utcmonth(toDate(datum.value)) == 0", "value": "bold"}, "value": "normal"},
    "ticks": false, "grid": false, "domain": true, "domainColor": "#E0E3EB",
    "offset": 24, "labelPadding": -18,
    "title": "TradingView", "titleAnchor": "start", "titleAlign": "left", "titleBaseline": "middle",
    "titleX": 20, "titleY": 17, "titleFont": "Lato", "titleFontSize": 13, "titleFontWeight": "normal", "titleColor": "#131722"
   }
  }
 }
},
{"data": {"name": "lv"},
 "mark": {"type": "rule", "strokeWidth": 1},
 "encoding": {
  "x": {"field": "from", "type": "ordinal"},
  "x2": {"datum": "2025-04-14"},
  "y": {"field": "v", "type": "quantitative"},
  "color": {"condition": [{"test": "datum.t == 'cur'", "value": "#F23645"}, {"test": "datum.t == 'sup'", "value": "#5FB563"}], "value": "#787B86"},
  "strokeDash": {"condition": {"test": "datum.t == 'cur'", "value": [1, 2]}, "value": [3, 4]},
  "opacity": {"condition": {"test": "datum.t == 'cur'", "value": 0.6}, "value": 0.9}
 }
},
{"data": {"name": "px"},
 "transform": [{"filter": "isValid(datum.o)"}],
 "mark": {"type": "rule", "strokeWidth": 1},
 "encoding": {
  "x": {"field": "d", "type": "ordinal"},
  "y": {"field": "l", "type": "quantitative",
   "scale": {"domain": [1.1927, 1.3571], "nice": false, "zero": false},
   "axis": {"orient": "right", "offset": -53, "values": [1.2, 1.22, 1.24, 1.26, 1.3, 1.32, 1.34], "format": ".5f", "grid": false, "ticks": false, "labelPadding": 9, "labelFont": "Lato", "labelFontSize": 10.3, "labelColor": "#131722", "domainColor": "#E0E3EB", "title": null}},
  "y2": {"field": "h"},
  "color": {"condition": {"test": "datum.c >= datum.o", "value": "#7C93DC"}, "value": "#EC919E"}
 }
},
{"data": {"name": "px"},
 "transform": [{"filter": "isValid(datum.o)"}],
 "mark": {"type": "bar", "width": {"band": 0.75}},
 "encoding": {
  "x": {"field": "d", "type": "ordinal"},
  "y": {"field": "o", "type": "quantitative"},
  "y2": {"field": "c"},
  "color": {"condition": {"test": "datum.c >= datum.o", "value": "#2B4EC0"}, "value": "#E2475F"}
 }
},
{"data": {"name": "lv"},
 "mark": {"type": "point", "shape": "M-1,-0.2857L1,-0.2857L1,0.2857L-1,0.2857Z", "size": 2401, "filled": true, "opacity": 1},
 "encoding": {
  "x": {"datum": "2025-04-29", "type": "ordinal"},
  "y": {"field": "v", "type": "quantitative"},
  "color": {"condition": [{"test": "datum.t == 'cur'", "value": "#F23645"}, {"test": "datum.t == 'sup'", "value": "#4CAF50"}], "value": "#000000"}
 }
},
{"data": {"name": "lv"},
 "mark": {"type": "text", "font": "Lato", "fontSize": 10.3, "fontWeight": "bold", "color": "#ffffff", "align": "center", "baseline": "middle"},
 "encoding": {
  "x": {"datum": "2025-04-29", "type": "ordinal"},
  "y": {"field": "v", "type": "quantitative"},
  "text": {"field": "v", "format": ".5f"}
 }
},
{"data": {"values": [{}]},
 "mark": {"type": "text", "font": "Lato", "fontSize": 9.6, "align": "left", "baseline": "middle", "color": "#131722", "text": "British Pound / U.S. Dollar, 1D, OANDA"},
 "encoding": {"x": {"datum": "2023-09-01", "type": "ordinal"}, "y": {"datum": 1.3519, "type": "quantitative"}}},
{"data": {"values": [{}]},
 "mark": {"type": "text", "font": "Lato", "fontSize": 10.3, "align": "left", "baseline": "middle", "color": "#131722", "text": "O"},
 "encoding": {"x": {"datum": "2023-12-21", "type": "ordinal"}, "y": {"datum": 1.3519, "type": "quantitative"}}},
{"data": {"values": [{}]},
 "mark": {"type": "text", "font": "Lato", "fontSize": 10.3, "align": "left", "baseline": "middle", "color": "#F23645", "text": "1.26692"},
 "encoding": {"x": {"datum": "2023-12-26", "type": "ordinal"}, "y": {"datum": 1.3519, "type": "quantitative"}}},
{"data": {"values": [{}]},
 "mark": {"type": "text", "font": "Lato", "fontSize": 10.3, "align": "left", "baseline": "middle", "color": "#131722", "text": "H"},
 "encoding": {"x": {"datum": "2024-01-24", "type": "ordinal"}, "y": {"datum": 1.3519, "type": "quantitative"}}},
{"data": {"values": [{}]},
 "mark": {"type": "text", "font": "Lato", "fontSize": 10.3, "align": "left", "baseline": "middle", "color": "#F23645", "text": "1.26790"},
 "encoding": {"x": {"datum": "2024-01-29", "type": "ordinal"}, "y": {"datum": 1.3519, "type": "quantitative"}}},
{"data": {"values": [{}]},
 "mark": {"type": "text", "font": "Lato", "fontSize": 10.3, "align": "left", "baseline": "middle", "color": "#131722", "text": "L"},
 "encoding": {"x": {"datum": "2024-02-23", "type": "ordinal"}, "y": {"datum": 1.3519, "type": "quantitative"}}},
{"data": {"values": [{}]},
 "mark": {"type": "text", "font": "Lato", "fontSize": 10.3, "align": "left", "baseline": "middle", "color": "#F23645", "text": "1.26248"},
 "encoding": {"x": {"datum": "2024-02-28", "type": "ordinal"}, "y": {"datum": 1.3519, "type": "quantitative"}}},
{"data": {"values": [{}]},
 "mark": {"type": "text", "font": "Lato", "fontSize": 10.3, "align": "left", "baseline": "middle", "color": "#131722", "text": "C"},
 "encoding": {"x": {"datum": "2024-03-26", "type": "ordinal"}, "y": {"datum": 1.3519, "type": "quantitative"}}},
{"data": {"values": [{}]},
 "mark": {"type": "text", "font": "Lato", "fontSize": 10.3, "align": "left", "baseline": "middle", "color": "#F23645", "text": "1.26356"},
 "encoding": {"x": {"datum": "2024-03-29", "type": "ordinal"}, "y": {"datum": 1.3519, "type": "quantitative"}}},
{"data": {"values": [{}]},
 "mark": {"type": "text", "font": "Lato", "fontSize": 10.3, "align": "left", "baseline": "middle", "color": "#F23645", "text": "−0.00340 (−0.27%)"},
 "encoding": {"x": {"datum": "2024-04-25", "type": "ordinal"}, "y": {"datum": 1.3519, "type": "quantitative"}}}
]
}
